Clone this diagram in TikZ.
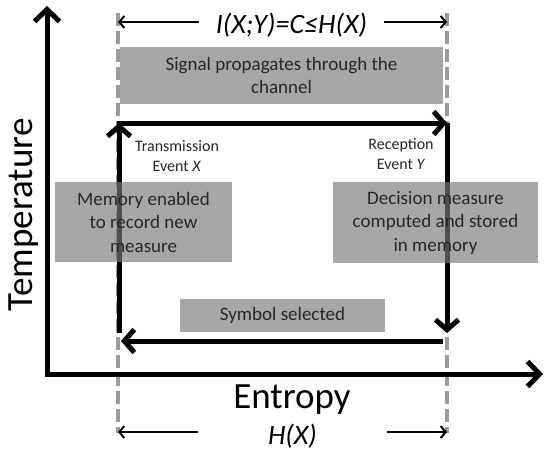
\documentclass[tikz,border=0pt]{standalone}
\usepackage{fontspec}
\setmainfont{Carlito}
\usetikzlibrary{arrows.meta}
\definecolor{boxgray}{RGB}{121,121,121}
\definecolor{guidegray}{RGB}{155,155,155}
\definecolor{txt}{RGB}{38,38,38}
\tikzset{
  axisline/.style={line width=5pt, draw=black},
  loopline/.style={line width=5pt, draw=black, -{Straight Barb[length=10pt,width=23pt]}},
  thinarrow/.style={line width=2pt, draw=black, -{Straight Barb[length=5pt,width=12pt]}},
  guide/.style={line width=4pt, draw=guidegray, dash pattern=on 13pt off 5pt},
  graybox/.style={fill=boxgray, fill opacity=0.66, text opacity=1, text=txt, align=center,
    inner sep=0pt, font=\fontsize{19}{23.5}\selectfont},
  evlabel/.style={text=txt, align=center, font=\fontsize{16}{20}\selectfont, inner sep=0pt},
  biglabel/.style={font=\fontsize{37}{40}\selectfont, inner sep=0pt, anchor=base},
  mathlabel/.style={font=\fontsize{28}{30}\selectfont\itshape, inner sep=0pt, anchor=base}
}
\begin{document}
\begin{tikzpicture}[x=1pt,y=-1pt]
\useasboundingbox (0,0) rectangle (550,455);
% guide lines
\coordinate (gLt) at (118,13);
\coordinate (gLb) at (118,433);
\coordinate (gRt) at (447,13);
\coordinate (gRb) at (447,433);
\draw[guide] (gLt) -- (gLb);
\draw[guide] (gRt) -- (gRb);
% axes
\coordinate (O) at (47,374);
\coordinate (ytip) at (47,6);
\coordinate (xtip) at (543,374);
\draw[axisline, {Straight Barb[length=12pt,width=25pt]}-{Straight Barb[length=12pt,width=25pt]}] (ytip) -- (O) -- (xtip);
\node[biglabel, rotate=90] (temp) at (32,215) {Temperature};
\node[biglabel] (entropy) at (292,408) {Entropy};
% top dimension
\node[mathlabel, inner xsep=17pt] (mi) at (291.5,34) {I(X;Y)=C≤H(X)};
\coordinate (mil) at (118,22);
\coordinate (mir) at (447,22);
\draw[thinarrow] (mi.west |- mil) -- (mil);
\draw[thinarrow] (mi.east |- mir) -- (mir);
% bottom dimension
\node[mathlabel, inner xsep=70pt] (hx) at (292.5,444) {H(X)};
\coordinate (hxl) at (118,432);
\coordinate (hxr) at (447,432);
\draw[thinarrow] (hx.west |- hxl) -- (hxl);
\draw[thinarrow] (hx.east |- hxr) -- (hxr);
% loop
\coordinate (TL) at (119,123);
\coordinate (TR) at (447,123);
\coordinate (BR) at (447,341);
\coordinate (BL) at (119,341);
\draw[loopline, shorten <=8pt] (BL) -- (TL);
\draw[loopline, line cap=rect] (TL) -- (TR);
\draw[loopline, shorten >=8pt] (TR) -- (BR);
\draw[loopline, shorten <=4pt, shorten >=2pt] (BR) -- (BL);
% boxes
\node[graybox, minimum width=323pt, minimum height=57pt] (signal) at (281.5,75.5)
  {Signal propagates through the\\channel};
\node[graybox, minimum width=177pt, minimum height=80pt] (memory) at (143.5,222)
  {Memory enabled\\to record new\\measure};
\node[graybox, minimum width=205pt, minimum height=81pt] (decision) at (435.5,222.5)
  {Decision measure\\computed and stored\\in memory};
\node[graybox, minimum width=205pt, minimum height=33pt] (symbol) at (282.5,315.5)
  {Symbol selected};
% event labels
\node[evlabel] (tx) at (177,156) {Transmission\\Event \textit{X}};
\node[evlabel] (rx) at (401,154) {Reception\\Event \textit{Y}};
\end{tikzpicture}
\end{document}
